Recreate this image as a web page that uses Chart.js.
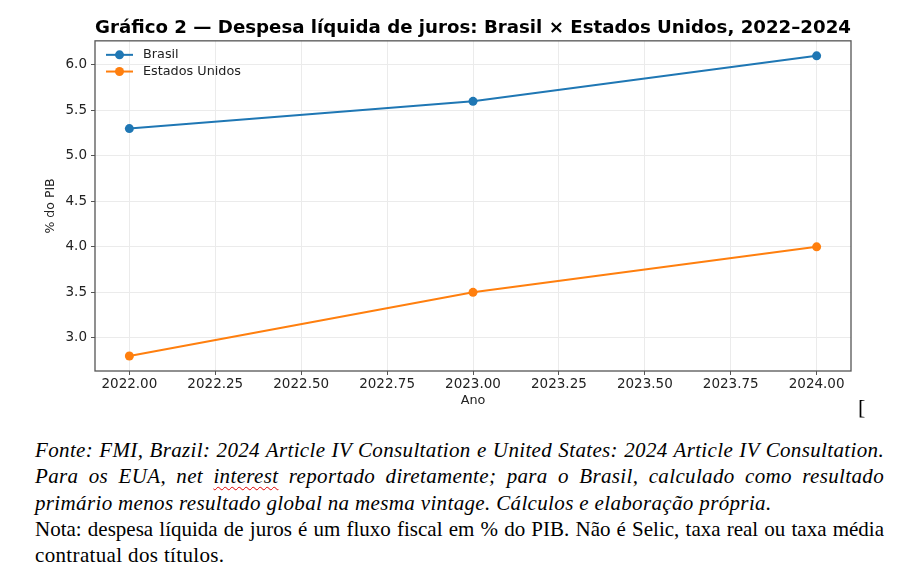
<!DOCTYPE html>
<html>
<head>
<meta charset="utf-8">
<script src="https://cdn.jsdelivr.net/npm/chart.js@4.4.1/dist/chart.umd.min.js"></script>
<style>
  body { margin: 0; background: #fff; width: 916px; height: 579px; overflow: hidden; position: relative; }
  #wrap { position: absolute; left: 0; top: 0; width: 916px; height: 420px; }
  .txt { position: absolute; left: 35px; width: 849px; top: 437px;
         font-family: "Liberation Serif", "Times New Roman", serif; font-size: 21px;
         letter-spacing: 0.35px; line-height: 26.3px; color: #000; }
  .txt div { text-align: justify; white-space: nowrap; }
  .txt .j { text-align-last: justify; }
  .txt .it { font-style: italic; }
  .txt .tight { letter-spacing: 0; }
  .sp { text-decoration: underline wavy #d00; text-decoration-thickness: 1px; text-underline-offset: 3px; }
  #br { position: absolute; left: 858px; top: 394px; font-family: "Liberation Serif", serif; font-size: 22px; }
</style>
</head>
<body>
<div id="wrap"><canvas id="myChart" width="916" height="420"></canvas></div>
<span id="br">[</span>
<div class="txt">
  <div class="it j">Fonte: FMI, Brazil: 2024 Article IV Consultation e United States: 2024 Article IV Consultation.</div>
  <div class="it j">Para os EUA, net <span class="sp">interest</span> reportado diretamente; para o Brasil, calculado como resultado</div>
  <div class="it">primário menos resultado global na mesma vintage. Cálculos e elaboração própria.</div>
  <div class="j tight">Nota: despesa líquida de juros é um fluxo fiscal em % do PIB. Não é Selic, taxa real ou taxa média</div>
  <div>contratual dos títulos.</div>
</div>
<script>
var anos = [2022, 2023, 2024];
var brasil = [5.3, 5.6, 6.1];
var eua = [2.8, 3.5, 4.0];

var xTicks = [2022, 2022.25, 2022.5, 2022.75, 2023, 2023.25, 2023.5, 2023.75, 2024];
var xTickLabels = ['2022.00', '2022.25', '2022.50', '2022.75', '2023.00',
                   '2023.25', '2023.50', '2023.75', '2024.00'];
var yTicks = [3.0, 3.5, 4.0, 4.5, 5.0, 5.5, 6.0];
var yTickLabels = ['3.0', '3.5', '4.0', '4.5', '5.0', '5.5', '6.0'];

function pts(vals) {
  return anos.map(function(a, i) { return {x: a, y: vals[i]}; });
}

Chart.defaults.font.family = 'DejaVu Sans';
Chart.defaults.color = '#222';

// frame round the plot, like the matplotlib spines
var frame = {
  id: 'frame',
  afterDraw: function(chart) {
    var c = chart.ctx, a = chart.chartArea;
    c.save();
    c.strokeStyle = '#555';
    c.lineWidth = 1.3;
    c.strokeRect(a.left, a.top, a.right - a.left, a.bottom - a.top);
    c.restore();
  }
};

// legend drawn inside the plot, top left, no box
var innerLegend = {
  id: 'innerLegend',
  afterDraw: function(chart) {
    var c = chart.ctx, a = chart.chartArea;
    c.save();
    c.font = '12.8px "DejaVu Sans"';
    c.textBaseline = 'middle';
    chart.data.datasets.forEach(function(ds, i) {
      var y = a.top + 14 + i * 16.7;
      var x0 = a.left + 11;
      c.strokeStyle = ds.borderColor;
      c.lineWidth = 2;
      c.beginPath();
      c.moveTo(x0, y);
      c.lineTo(x0 + 27, y);
      c.stroke();
      c.fillStyle = ds.borderColor;
      c.beginPath();
      c.arc(x0 + 13.5, y, 4.5, 0, Math.PI * 2);
      c.fill();
      c.fillStyle = '#222';
      c.fillText(ds.label, x0 + 37, y);
    });
    c.restore();
  }
};

var ctx = document.getElementById('myChart').getContext('2d');
var myChart = new Chart(ctx, {
  type: 'line',
  data: {
    datasets: [{
      label: 'Brasil',
      data: pts(brasil),
      borderColor: '#1f77b4',
      backgroundColor: '#1f77b4',
      borderWidth: 2,
      pointRadius: 4.5,
      pointBorderWidth: 0,
      pointBackgroundColor: '#1f77b4'
    }, {
      label: 'Estados Unidos',
      data: pts(eua),
      borderColor: '#ff7f0e',
      backgroundColor: '#ff7f0e',
      borderWidth: 2,
      pointRadius: 4.5,
      pointBorderWidth: 0,
      pointBackgroundColor: '#ff7f0e'
    }]
  },
  options: {
    responsive: false,
    animation: false,
    layout: { padding: { left: 0, top: 0, right: 65, bottom: 0 } },
    plugins: {
      legend: { display: false },
      tooltip: { enabled: false },
      title: {
        display: true,
        fullSize: false,
        text: 'Gráfico 2 — Despesa líquida de juros: Brasil × Estados Unidos, 2022–2024',
        font: { size: 18.2, weight: 'bold' },
        color: '#000',
        padding: { top: 17, bottom: 2 }
      }
    },
    scales: {
      x: {
        type: 'linear',
        min: 2021.9,
        max: 2024.1,
        afterBuildTicks: function(s) { s.ticks = xTicks.map(function(v) { return {value: v}; }); },
        afterFit: function(s) { s.height = 49; },
        ticks: {
          font: { size: 13.5 },
          color: '#222',
          padding: 1,
          maxRotation: 0,
          autoSkip: false,
          callback: function(v, i) { return xTickLabels[i]; }
        },
        grid: { color: '#ebebeb', lineWidth: 1, tickColor: '#555', tickLength: 4 },
        border: { display: false },
        title: { display: true, text: 'Ano', font: { size: 12.8 }, color: '#222', padding: { top: 0, bottom: 12 } }
      },
      y: {
        min: 2.635,
        max: 6.265,
        afterBuildTicks: function(s) { s.ticks = yTicks.map(function(v) { return {value: v}; }); },
        afterFit: function(s) { s.width = 95; },
        ticks: {
          font: { size: 13.5 },
          color: '#222',
          padding: 4,
          autoSkip: false,
          callback: function(v, i) { return yTickLabels[i]; }
        },
        grid: { color: '#ebebeb', lineWidth: 1, tickColor: '#555', tickLength: 4 },
        border: { display: false },
        title: { display: true, text: '% do PIB', font: { size: 12.5 }, color: '#222', padding: { top: 43, bottom: 0 } }
      }
    }
  },
  plugins: [frame, innerLegend]
});
</script>
</body>
</html>
